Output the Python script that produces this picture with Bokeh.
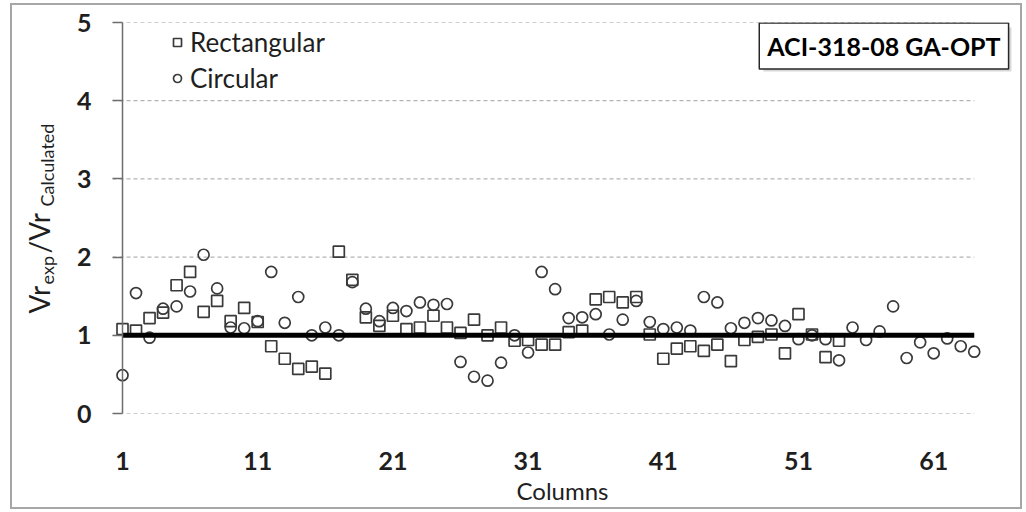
import math
from bokeh.plotting import figure
from bokeh.layouts import row
from bokeh.models import Range1d, FixedTicker, Span, Label, Legend, LegendItem, BoxAnnotation
from bokeh.embed import file_html
from bokeh.resources import INLINE

# ---------------- data ----------------
columns_rect = list(range(1, 55))
ratio_rect = [1.08, 1.06, 1.22, 1.29, 1.64, 1.81, 1.30, 1.44, 1.18, 1.35,
              1.17, 0.86, 0.70, 0.57, 0.60, 0.51, 2.07, 1.71, 1.23, 1.12,
              1.25, 1.08, 1.10, 1.25, 1.10, 1.03, 1.20, 1.00, 1.10, 0.93,
              0.94, 0.88, 0.88, 1.04, 1.06, 1.46, 1.49, 1.42, 1.49, 1.01,
              0.70, 0.83, 0.86, 0.80, 0.88, 0.67, 0.94, 0.98, 1.01, 0.77,
              1.27, 1.01, 0.72, 0.93]
columns_circ = list(range(1, 65))
ratio_circ = [0.49, 1.54, 0.97, 1.34, 1.37, 1.56, 2.03, 1.60, 1.10, 1.09,
              1.18, 1.81, 1.16, 1.49, 1.00, 1.10, 1.00, 1.68, 1.34, 1.18,
              1.35, 1.31, 1.42, 1.39, 1.40, 0.66, 0.47, 0.42, 0.65, 1.00,
              0.78, 1.81, 1.59, 1.22, 1.23, 1.27, 1.01, 1.20, 1.44, 1.17,
              1.08, 1.10, 1.06, 1.49, 1.42, 1.09, 1.16, 1.22, 1.19, 1.12,
              0.95, 1.00, 0.95, 0.68, 1.10, 0.94, 1.05, 1.37, 0.71, 0.91,
              0.77, 0.96, 0.86, 0.79]
ref_x = [1, 64]
ref_y = [1.0, 1.0]
x_ticks = [1, 11, 21, 31, 41, 51, 61]
y_ticks = [0, 1, 2, 3, 4, 5]

FONT = "Lato"
TXT = "#1f1f1f"
AX = "#6d6d6d"
X_START, X_END = 0.26, 66.83

# ---------------- main plot ----------------
p = figure(width=962, height=512, output_backend="svg", toolbar_location=None,
           x_range=Range1d(X_START, X_END), y_range=Range1d(0, 5),
           min_border_left=48, min_border_right=14, min_border_top=22,
           min_border_bottom=99)
p.outline_line_color = None
p.background_fill_color = None
p.border_fill_color = None
p.xgrid.visible = False
p.ygrid.visible = False

# dashed horizontal gridlines, from the axis to the last column
grid_end = columns_circ[-1]
p.segment(x0=[X_START] * len(y_ticks), y0=y_ticks, x1=[grid_end] * len(y_ticks), y1=y_ticks,
          line_color="#a0a0a0", line_dash="4 3", line_width=1)

# x axis
xa = p.xaxis[0]
xa.ticker = FixedTicker(ticks=x_ticks)
xa.axis_line_color = None
xa.major_tick_line_color = None
xa.minor_tick_line_color = None
xa.major_label_standoff = 32
xa.major_label_text_font = FONT
xa.major_label_text_font_size = "25px"
xa.major_label_text_font_style = "bold"
xa.major_label_text_color = TXT
xa.axis_label = "Columns"
xa.axis_label_text_font = FONT
xa.axis_label_text_font_size = "24px"
xa.axis_label_text_font_style = "normal"
xa.axis_label_text_color = TXT
xa.axis_label_standoff = 3

# y axis
ya = p.yaxis[0]
ya.ticker = FixedTicker(ticks=y_ticks)
ya.axis_line_color = None
ya.major_tick_in = 10
ya.major_tick_out = 0
ya.major_tick_line_color = AX
ya.major_tick_line_width = 1.5
ya.minor_tick_line_color = None
ya.major_label_standoff = 21
ya.major_label_text_font = FONT
ya.major_label_text_font_size = "25px"
ya.major_label_text_font_style = "bold"
ya.major_label_text_color = TXT

# data
r_rect = p.scatter(columns_rect, ratio_rect, marker="square", size=11,
                   fill_color=None, line_color="#3a3a3a", line_width=1.7)
r_circ = p.scatter(columns_circ, ratio_circ, marker="circle", size=11,
                   fill_color=None, line_color="#3a3a3a", line_width=1.7)
p.line(ref_x, ref_y, line_color="black", line_width=5)

# y axis line at the first column
p.add_layout(Span(location=1, dimension="height", line_color=AX, line_width=1.5))

# legend
legend = Legend(items=[LegendItem(label="Rectangular", renderers=[r_rect]),
                       LegendItem(label="Circular", renderers=[r_circ])],
                location=(55, 319))
legend.border_line_color = None
legend.background_fill_alpha = 0
legend.label_text_font = FONT
legend.label_text_font_size = "26px"
legend.label_text_color = TXT
legend.glyph_width = 20
legend.glyph_height = 20
legend.label_standoff = 3
legend.spacing = 4
legend.padding = 0
legend.margin = 0
legend.label_height = 26
p.add_layout(legend)

# title box with soft shadow
p.add_layout(BoxAnnotation(left=48.41, right=66.75, top=4.936, bottom=4.373,
                           fill_color="#b8b8b8", fill_alpha=0.55, line_color=None))
p.add_layout(Label(x=57.32, y=4.70, text="ACI-318-08 GA-OPT", text_font=FONT,
                   text_font_size="25px", text_font_style="bold", text_color="black",
                   text_align="center", text_baseline="middle",
                   background_fill_color="white", border_line_color="#262626",
                   border_line_width=1.5, padding=8))

# ---------------- y-axis title panel (same vertical frame as the plot) ----------------
fl = figure(width=64, height=512, output_backend="svg", toolbar_location=None,
            x_range=Range1d(0, 64), y_range=Range1d(0, 5),
            min_border_left=0, min_border_right=0, min_border_top=22,
            min_border_bottom=99, x_axis_location=None, y_axis_location=None)
fl.outline_line_color = None
fl.background_fill_color = None
fl.border_fill_color = None
fl.xgrid.visible = False
fl.ygrid.visible = False

def lab(x, y, t, size):
    fl.add_layout(Label(x=x, y=y, text=t, angle=math.pi / 2, text_font=FONT,
                        text_font_size=size, text_color=TXT, text_align="left",
                        text_baseline="middle"))

lab(38.5, 1.279, "Vr", "28px")
lab(46.5, 1.650, "exp", "18px")
lab(38.5, 2.046, "/Vr", "28px")
lab(46.5, 2.647, "Calculated", "18px")

# chart-area border (drawn as page background behind the transparent canvases)
G = "linear-gradient(#a6a6a6,#a6a6a6)"
lay = row(fl, p)
lay.styles = {
    "background": (f"{G} 10px 3px / 2px 506px no-repeat, "
                   f"{G} 10px 3px / 1012px 2px no-repeat, "
                   f"{G} 1020px 3px / 2px 506px no-repeat, "
                   f"{G} 10px 507px / 1012px 2px no-repeat, white"),
}

open("out.html", "w").write(file_html(lay, INLINE))
